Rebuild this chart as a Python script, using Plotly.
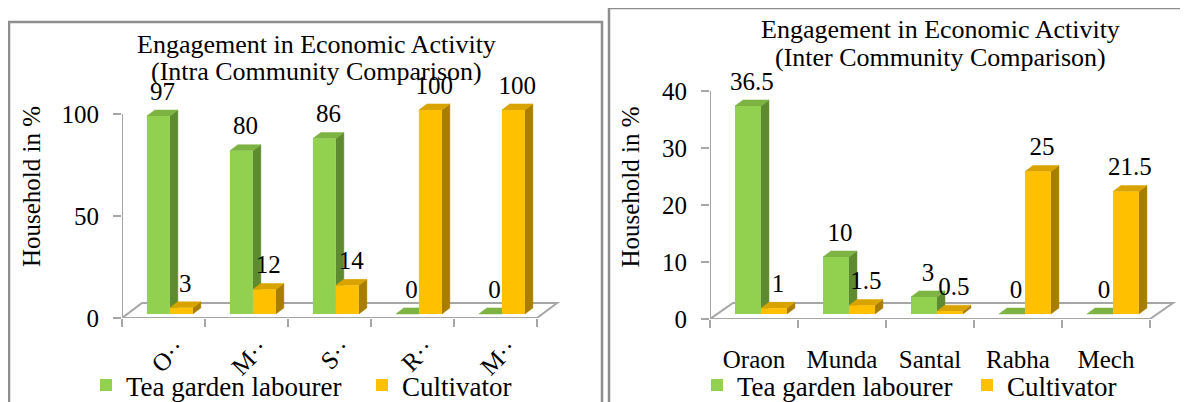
import plotly.graph_objects as go

W, H = 1188, 402
PAGE_OFS = 8  # page body margin: figure pixel p shows at p + 8

# ---------------- data ----------------
categories = ["Oraon", "Munda", "Santal", "Rabha", "Mech"]
intra_tick_labels = ["O··", "M··", "S··", "R··", "M··"]
intra_tea = [97, 80, 86, 0, 0]
intra_cult = [3, 12, 14, 100, 100]
inter_tea = [36.5, 10, 3, 0, 0]
inter_cult = [1, 1.5, 0.5, 25, 21.5]
series_names = ["Tea garden labourer", "Cultivator"]
intra_title = ["Engagement in Economic Activity", "(Intra Community Comparison)"]
inter_title = ["Engagement in Economic Activity", "(Inter Community Comparison)"]
y_title = "Household in %"
intra_yticks = [0, 50, 100]
inter_yticks = [0, 10, 20, 30, 40]

# ---------------- style ----------------
FONT = "Liberation Serif"
GREEN = dict(front="#92D050", top="#7DB343", side="#5E8A30")
GOLD = dict(front="#FFC000", top="#D9A400", side="#A87D00")
GRID = "#A6A6A6"
BORDER = "#8E8E8E"


def px(x):
    return (x - PAGE_OFS) / W


def py(y):
    return 1 - (y - PAGE_OFS) / H


panels = [
    dict(ax="x", ay="y", ox="x3", oy="y3", legends=["legend", "legend2"],
         x0=122, ux=83, y0=318, uy=2.04, top=55,
         off=[0.30, 0.577], w=0.277, dx=0.096, dy=2.94, lift=2.0,
         fdx=0.241, fdy=7.35, yticks=intra_yticks,
         series=[intra_tea, intra_cult], ticktext=intra_tick_labels, tickangle=-45,
         title=intra_title, title_cx=316, title_y=[44, 72],
         legend_x=[86, 362], ytitle_standoff=13),
    dict(ax="x2", ay="y2", ox="x4", oy="y4", legends=["legend3", "legend4"],
         x0=710, ux=88, y0=319, uy=5.7, top=55,
         off=[0.284, 0.579], w=0.295, dx=0.091, dy=1.05, lift=0.88,
         fdx=0.261, fdy=2.8, yticks=inter_yticks,
         series=[inter_tea, inter_cult], ticktext=categories, tickangle=0,
         title=inter_title, title_cx=940, title_y=[29, 58],
         legend_x=[697, 967], ytitle_standoff=15),
]
colors = [GREEN, GOLD]
LABEL_PAD_PX = 4


def axis_key(a):
    return "xaxis" + a[1:] if a.startswith("x") else "yaxis" + a[1:]


fig = go.Figure()
layout = dict(width=W, height=H, margin=dict(l=0, r=0, t=0, b=0, autoexpand=False),
              plot_bgcolor="white", paper_bgcolor="white", barmode="overlay",
              font=dict(family=FONT, color="black", size=25),
              showlegend=True, hovermode=False)
shapes, annotations = [], []
NX = 5

for p in panels:
    xr = [0, NX + 0.3]
    ymax = (p["y0"] - p["top"]) / p["uy"]
    xdom = [px(p["x0"]), px(p["x0"] + xr[1] * p["ux"])]
    ydom = [py(p["y0"]), py(p["top"])]

    # side + top faces (base subplot, drawn beneath the front faces)
    for s, vals in enumerate(p["series"]):
        sx, sy, tx, ty = [], [], [], []
        for i, v in enumerate(vals):
            xa = i + p["off"][s]
            xb = xa + p["w"]
            ya = p["lift"]
            yb = p["lift"] + v
            sx += [xb, xb + p["dx"], xb + p["dx"], xb, xb, None]
            sy += [ya, ya + p["dy"], yb + p["dy"], yb, ya, None]
            tx += [xa, xb, xb + p["dx"], xa + p["dx"], xa, None]
            ty += [yb, yb, yb + p["dy"], yb + p["dy"], yb, None]
        for fx, fy, col in [(sx, sy, colors[s]["side"]), (tx, ty, colors[s]["top"])]:
            fig.add_trace(go.Scatter(x=fx, y=fy, mode="lines", fill="toself",
                                     fillcolor=col, line=dict(color=col, width=0.5),
                                     hoverinfo="skip", showlegend=False,
                                     xaxis=p["ax"], yaxis=p["ay"]))

    # front faces (overlay subplot)
    for s, vals in enumerate(p["series"]):
        fig.add_trace(go.Bar(
            x=[i + p["off"][s] + p["w"] / 2 for i in range(len(vals))],
            y=vals, base=p["lift"], width=p["w"], name=series_names[s],
            marker=dict(color=colors[s]["front"], line=dict(width=0)),
            legend=p["legends"][s], xaxis=p["ox"], yaxis=p["oy"]))
    # data labels
    for s, vals in enumerate(p["series"]):
        fig.add_trace(go.Scatter(
            x=[i + p["off"][s] + p["w"] / 2 + p["dx"] / 2 for i in range(len(vals))],
            y=[p["lift"] + v + p["dy"] + LABEL_PAD_PX / p["uy"] for v in vals],
            text=[f"{v:g}" for v in vals], mode="text", textposition="top center",
            textfont=dict(family=FONT, size=25, color="black"),
            showlegend=False, cliponaxis=False, hoverinfo="skip",
            xaxis=p["ox"], yaxis=p["oy"]))

    layout[axis_key(p["ax"])] = dict(
        domain=xdom, range=xr, anchor=p["ay"], tickmode="array",
        tickvals=list(range(NX + 1)), ticks="outside", ticklen=8, tickwidth=2,
        tickcolor=GRID, showticklabels=False, showline=False, showgrid=False,
        zeroline=False, fixedrange=True, automargin=False)
    layout[axis_key(p["ay"])] = dict(
        domain=ydom, range=[0, ymax], anchor=p["ax"], tickmode="array",
        tickvals=p["yticks"], ticks="outside", ticklen=8, tickwidth=2,
        tickcolor=GRID, ticklabelstandoff=9, showline=False, showgrid=False,
        zeroline=False, tickfont=dict(size=25), automargin=False,
        title=dict(text=y_title, font=dict(size=25), standoff=p["ytitle_standoff"]),
        fixedrange=True)
    layout[axis_key(p["ox"])] = dict(
        overlaying=p["ax"], range=xr, anchor=p["oy"], tickmode="array",
        tickvals=[i + 0.5 for i in range(NX)], ticktext=p["ticktext"],
        tickangle=p["tickangle"], ticks="", showline=False, showgrid=False,
        zeroline=False, tickfont=dict(size=25), automargin=False,
        ticklabelstandoff=(9 if p["tickangle"] else 23),
        ticklabelshift=(14 if p["tickangle"] else 0), fixedrange=True)
    layout[axis_key(p["oy"])] = dict(
        overlaying=p["ay"], range=[0, ymax], anchor=p["ox"], visible=False,
        showgrid=False, zeroline=False, fixedrange=True)

    # floor and value axis line
    f = p
    shapes.append(dict(type="path", xref=p["ax"], yref=p["ay"], layer="below",
                       path=f"M 0,0 L {NX},0 L {NX + f['fdx']},{f['fdy']} "
                            f"L {f['fdx']},{f['fdy']} Z",
                       line=dict(color=GRID, width=2), fillcolor="rgba(0,0,0,0)"))
    shapes.append(dict(type="line", xref=p["ax"], yref=p["ay"], layer="below",
                       x0=0, x1=0, y0=0, y1=max(p["yticks"]),
                       line=dict(color=GRID, width=2)))

    # titles
    for line, ty in zip(p["title"], p["title_y"]):
        annotations.append(dict(text=line, xref="paper", yref="paper",
                                x=px(p["title_cx"]), y=py(ty),
                                xanchor="center", yanchor="middle", showarrow=False,
                                font=dict(family=FONT, size=26, color="black")))

    for lg, lx in zip(p["legends"], p["legend_x"]):
        layout[lg] = dict(
            orientation="h", x=px(lx), y=0, xanchor="left", yanchor="bottom",
            font=dict(family=FONT, size=27, color="black"),
            bgcolor="rgba(0,0,0,0)", borderwidth=0)

# panel borders
shapes.append(dict(type="rect", xref="paper", yref="paper", layer="above",
                   x0=px(9), x1=px(602), y0=py(22), y1=-0.05,
                   line=dict(color=BORDER, width=2.5)))
shapes.append(dict(type="rect", xref="paper", yref="paper", layer="above",
                   x0=px(609), x1=1.05, y0=py(8), y1=-0.05,
                   line=dict(color=BORDER, width=2.5)))

layout["shapes"] = shapes
layout["annotations"] = annotations
fig.update_layout(**layout)
fig.write_html("out.html")
